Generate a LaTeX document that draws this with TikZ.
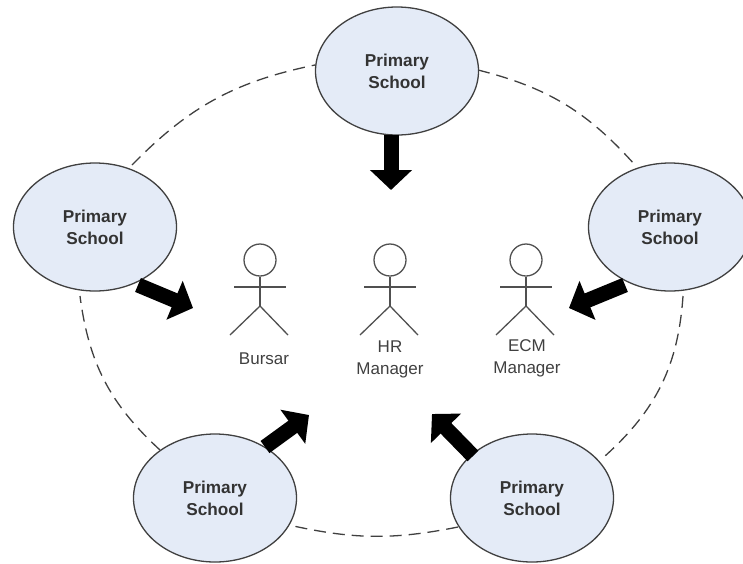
\documentclass[tikz,border=0pt]{standalone}
\usepackage{fontspec}
\setmainfont{Liberation Sans}
\usetikzlibrary{shapes.geometric,arrows.meta,calc}
\definecolor{schoolfill}{HTML}{E4EBF7}
\definecolor{inkline}{HTML}{404040}
\definecolor{actorline}{HTML}{505050}
\tikzset{
  school/.style={ellipse,draw=inkline,line width=1.3pt,fill=schoolfill,minimum width=163pt,minimum height=128pt,inner sep=0pt,
     align=center,font=\fontsize{17.2}{22}\selectfont\bfseries,text=black!80},
  ring/.style={draw=inkline,line width=1.3pt,dash pattern=on 12pt off 7pt},
  bigarrow/.style={draw=black,line width=15pt,-{Triangle[length=20pt,width=41pt]}},
  actorhead/.style={circle,draw=actorline,line width=1.3pt,minimum size=32pt,inner sep=0pt},
  actorlimb/.style={draw=actorline,line width=1.3pt},
  actorlabel/.style={align=center,font=\fontsize{17}{22}\selectfont,text=black!75},
}
\begin{document}
\begin{tikzpicture}[x=1pt,y=-1pt]
\useasboundingbox (0,0) rectangle (743,563);
% dashed ring
\coordinate (r1a) at (132,165); \coordinate (r1b) at (315,65);
\coordinate (r2a) at (478,70);  \coordinate (r2b) at (635,165);
\coordinate (r3a) at (683,296); \coordinate (r3b) at (605,456);
\coordinate (r4a) at (458,527); \coordinate (r4b) at (289,525);
\coordinate (r5a) at (160,450); \coordinate (r5b) at (80,296);
\draw[ring] (r1a) to[bend left=17] (r1b);
\draw[ring] (r2a) to[bend left=17] (r2b);
\draw[ring] (r3a) to[bend left=22] (r3b);
\draw[ring] (r4a) to[bend left=12] (r4b);
\draw[ring] (r5a) to[bend left=20] (r5b);
% schools
\node[school] (top) at (397,71) {Primary\\School};
\node[school] (left) at (95,227) {Primary\\School};
\node[school] (right) at (670,227) {Primary\\School};
\node[school] (bl) at (215,498) {Primary\\School};
\node[school] (br) at (532,498) {Primary\\School};
% arrows
\coordinate (t1) at (391,190);
\coordinate (t2) at (193,308);
\coordinate (t3) at (569,308);
\coordinate (t4) at (309,415);
\coordinate (t5) at (432,414);
\draw[bigarrow] ($(top.south)+(-6,-1)$) -- (t1);
\draw[bigarrow] (138,285) -- (t2);
\draw[bigarrow] (625,285) -- (t3);
\draw[bigarrow] (265,447) -- (t4);
\draw[bigarrow] (473,456) -- (t5);
% actors
\foreach \nm/\cx in {a/260,b/390,c/526}{
  \node[actorhead] (head\nm) at (\cx,260) {};
  \coordinate (crotch\nm) at (\cx,306);
  \coordinate (armL\nm) at (\cx-26,287);
  \coordinate (armR\nm) at (\cx+26,287);
  \coordinate (legL\nm) at (\cx-30,335);
  \coordinate (legR\nm) at (\cx+28,335);
  \draw[actorlimb] (head\nm) -- (crotch\nm);
  \draw[actorlimb] (armL\nm) -- (armR\nm);
  \draw[actorlimb] (legL\nm) -- (crotch\nm) -- (legR\nm);
}
\node[actorlabel] (bursar) at (264,359) {Bursar};
\node[actorlabel] (hr) at (390,359) {HR\\Manager};
\node[actorlabel] (ecm) at (527,358) {ECM\\Manager};
\end{tikzpicture}
\end{document}
